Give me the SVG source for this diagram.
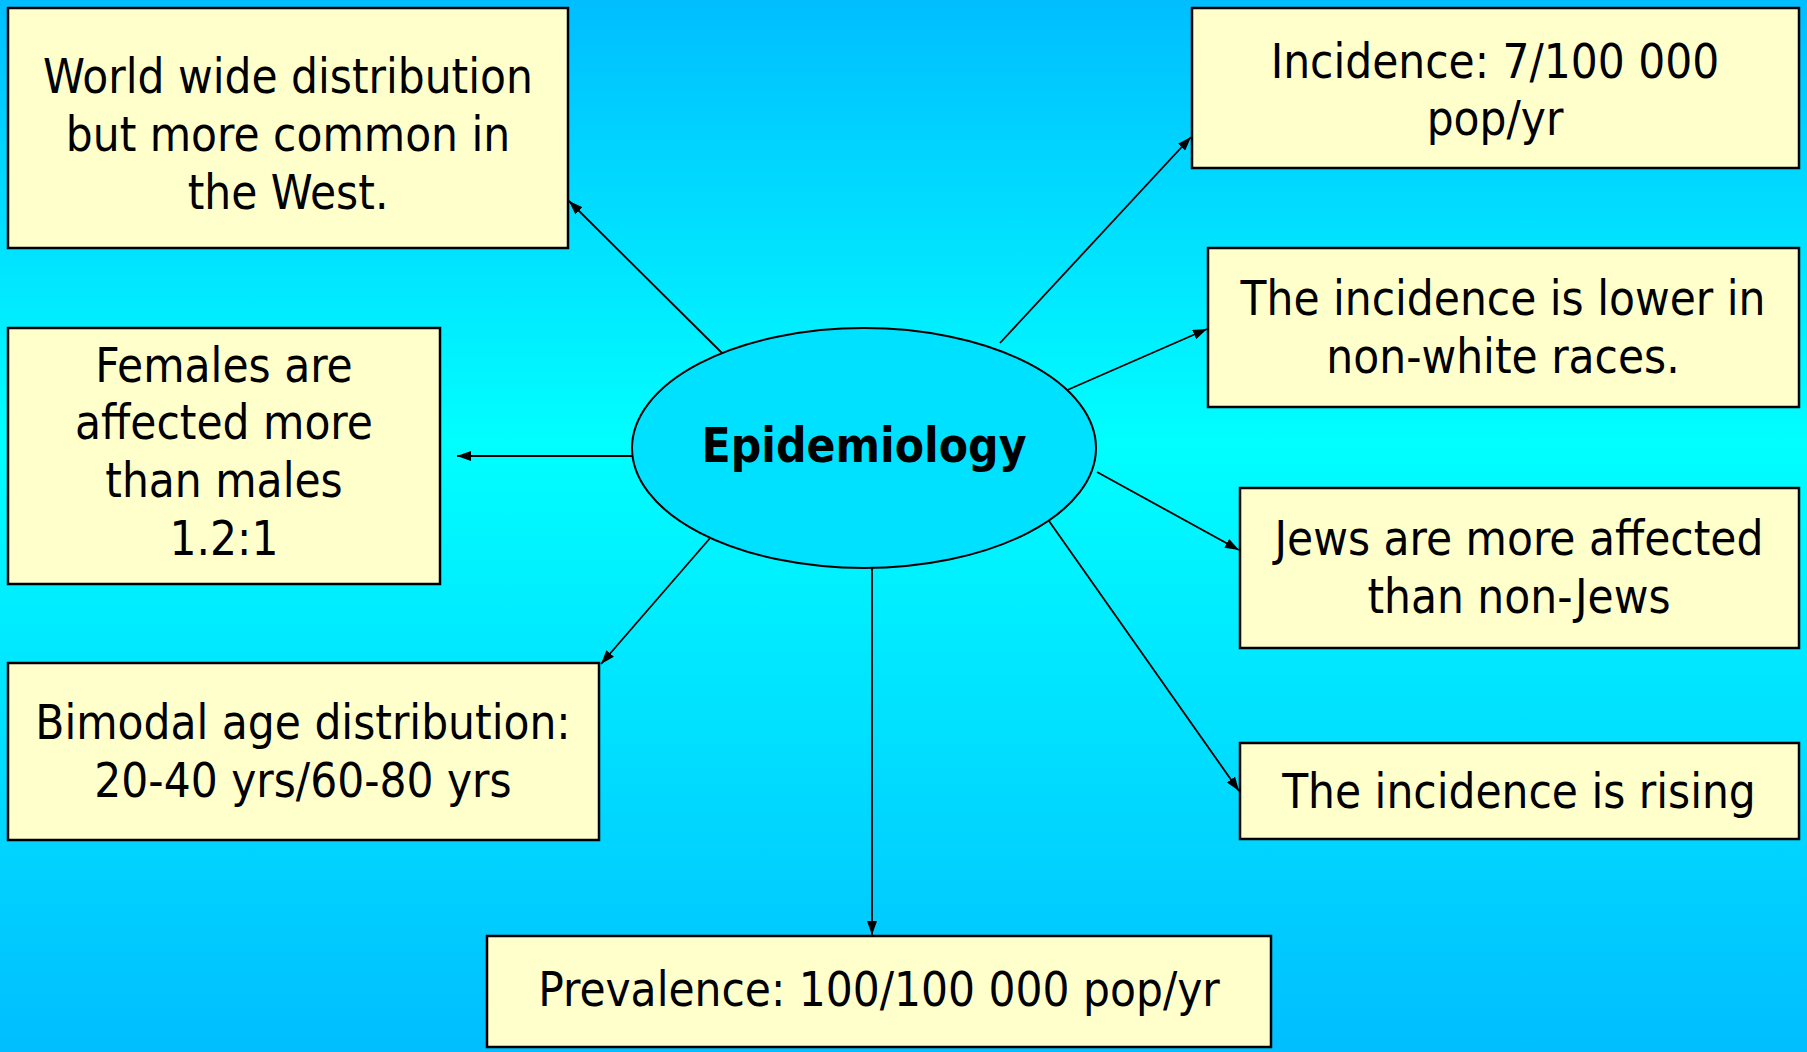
<svg xmlns="http://www.w3.org/2000/svg" width="1807" height="1052" viewBox="0 0 1807 1052">
<defs>
<linearGradient id="bg" x1="0" y1="0" x2="0" y2="1">
<stop offset="0" stop-color="#00BEFF"/>
<stop offset="0.42" stop-color="#00FFFF"/>
<stop offset="1" stop-color="#00BEFF"/>
</linearGradient>
<marker id="ah" viewBox="0 0 14 10" refX="14" refY="5" markerWidth="14" markerHeight="10" markerUnits="userSpaceOnUse" orient="auto">
<path d="M0,0 L14,5 L0,10 Z" fill="#000"/>
</marker>
<style>
.box{fill:#FFFFCC;stroke:#000;stroke-width:2.5}
.t{font-family:"DejaVu Sans Condensed","DejaVu Sans",sans-serif;font-size:47.2px;fill:#000;text-anchor:middle}
.c{stroke:#000;stroke-width:1.8;fill:none;marker-end:url(#ah)}
</style>
</defs>
<rect x="0" y="0" width="1807" height="1052" fill="url(#bg)"/>
<g id="connectors">
<line class="c" x1="728" y1="359" x2="569" y2="201"/>
<line class="c" x1="1000" y1="343" x2="1191" y2="137"/>
<line class="c" x1="1065" y1="391" x2="1207" y2="329"/>
<line class="c" x1="1097" y1="472" x2="1239" y2="550"/>
<line class="c" x1="1049" y1="521" x2="1239" y2="791"/>
<line class="c" x1="872" y1="568" x2="872" y2="935"/>
<line class="c" x1="711" y1="537" x2="601" y2="664"/>
<line class="c" x1="632" y1="456" x2="457" y2="456"/>
</g>
<g id="center">
<ellipse cx="864" cy="448" rx="232" ry="120" fill="#00E0FF" stroke="#000" stroke-width="2"/>
<text x="864" y="462" style="font-family:'DejaVu Sans Condensed','DejaVu Sans',sans-serif;font-size:47.5px;font-weight:bold;text-anchor:middle">Epidemiology</text>
</g>
<g id="world">
<rect class="box" x="8" y="8" width="560" height="240"/>
<text class="t" x="288" y="93">World wide distribution</text>
<text class="t" x="288" y="151">but more common in</text>
<text class="t" x="288" y="209">the West.</text>
</g>
<g id="incidence">
<rect class="box" x="1192" y="8" width="607" height="160"/>
<text class="t" x="1495" y="78">Incidence: 7/100 000</text>
<text class="t" x="1495" y="135">pop/yr</text>
</g>
<g id="lower">
<rect class="box" x="1208" y="248" width="591" height="159"/>
<text class="t" x="1503" y="315">The incidence is lower in</text>
<text class="t" x="1503" y="373">non-white races.</text>
</g>
<g id="jews">
<rect class="box" x="1240" y="488" width="559" height="160"/>
<text class="t" x="1519" y="555">Jews are more affected</text>
<text class="t" x="1519" y="613">than non-Jews</text>
</g>
<g id="rising">
<rect class="box" x="1240" y="743" width="559" height="96"/>
<text class="t" x="1519" y="808">The incidence is rising</text>
</g>
<g id="females">
<rect class="box" x="8" y="328" width="432" height="256"/>
<text class="t" x="224" y="382">Females are</text>
<text class="t" x="224" y="439">affected more</text>
<text class="t" x="224" y="497">than males</text>
<text class="t" x="224" y="555">1.2:1</text>
</g>
<g id="bimodal">
<rect class="box" x="8" y="663" width="591" height="177"/>
<text class="t" x="303" y="739">Bimodal age distribution:</text>
<text class="t" x="303" y="797">20-40 yrs/60-80 yrs</text>
</g>
<g id="prevalence">
<rect class="box" x="487" y="936" width="784" height="111"/>
<text class="t" x="879" y="1006">Prevalence: 100/100 000 pop/yr</text>
</g>
</svg>
